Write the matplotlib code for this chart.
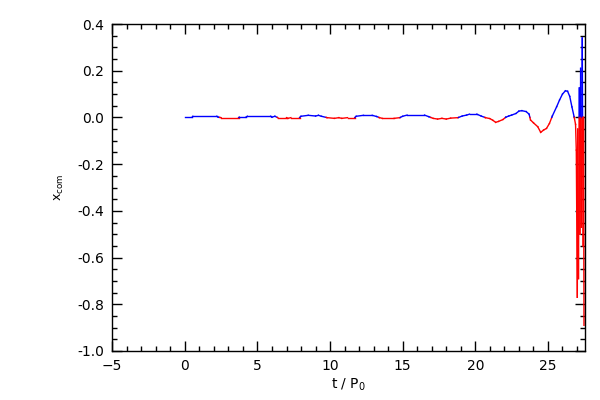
import numpy as np
import matplotlib
matplotlib.use("Agg")
import matplotlib.pyplot as plt
from matplotlib.ticker import MultipleLocator, FormatStrFormatter

# centre-of-mass position vs time
T = [0.0, 0.5, 0.55, 2.2, 2.3, 2.5, 3.7, 3.75, 4.2, 4.3, 5.9, 6.0, 6.2,
     6.4, 7.0, 7.1, 7.3, 7.9, 8.0, 8.5, 9.0, 9.2, 9.4, 9.8, 10.3, 10.6,
     10.8, 11.2, 11.7, 11.8, 12.3, 12.9, 13.2, 13.4, 13.6, 14.4, 14.8, 15.0,
     15.3, 16.5, 16.8, 17.1, 17.4, 17.7, 18.0, 18.3, 18.8, 19.1, 19.4, 19.6,
     20.1, 20.4, 20.7, 21.0, 21.2, 21.4, 21.6, 21.9, 22.1, 22.3, 22.5, 22.8,
     23.0, 23.2, 23.5, 23.7, 23.8, 24.0, 24.3, 24.5, 24.7, 24.9, 25.1, 25.3,
     25.6, 25.8, 26.0, 26.2, 26.35, 26.5, 26.65, 26.8, 26.9, 26.95, 27.02,
     27.05, 27.1, 27.16, 27.2, 27.25, 27.3, 27.36, 27.42, 27.45, 27.48]
XCOM = [0.001, 0.001, 0.005, 0.005, 0.001, -0.001, -0.001, 0.001, 0.001,
        0.005, 0.005, 0.001, 0.005, -0.001, -0.001, -0.004, -0.001, -0.001,
        0.005, 0.009, 0.006, 0.009, 0.005, -0.001, -0.004, -0.001, -0.004,
        -0.001, -0.001, 0.005, 0.009, 0.009, 0.004, -0.001, -0.004, -0.004,
        -0.001, 0.005, 0.010, 0.010, 0.003, -0.004, -0.007, -0.004, -0.007,
        -0.003, -0.001, 0.006, 0.010, 0.014, 0.014, 0.006, -0.001, -0.005,
        -0.012, -0.021, -0.017, -0.009, 0.001, 0.006, 0.010, 0.017, 0.027,
        0.029, 0.025, 0.014, -0.011, -0.023, -0.040, -0.064, -0.054, -0.047,
        -0.026, 0.006, 0.046, 0.075, 0.100, 0.114, 0.112, 0.090, 0.045, 0.003,
        -0.03, -0.14, -0.77, -0.05, -0.69, 0.126, -0.50, 0.21, -0.47, 0.34,
        -0.55, 0.0, -0.89]

t = np.array(T)
x = np.array(XCOM)

fig = plt.figure(figsize=(6, 4), dpi=100)
ax = fig.add_axes([0.187, 0.1225, 0.788, 0.8175])

# blue where x_com > 0, red where x_com < 0 (segments split at zero crossings)
for i in range(len(t) - 1):
    t0, t1, x0, x1 = t[i], t[i + 1], x[i], x[i + 1]
    if x0 * x1 < 0:
        tc = t0 + (t1 - t0) * x0 / (x0 - x1)
        ax.plot([t0, tc], [x0, 0], color="blue" if x0 > 0 else "red", lw=1.0)
        ax.plot([tc, t1], [0, x1], color="blue" if x1 > 0 else "red", lw=1.0)
    else:
        c = "blue" if (x0 + x1) > 0 else "red"
        ax.plot([t0, t1], [x0, x1], color=c, lw=1.0)

ax.set_xlim(-5, 27.55)
ax.set_ylim(-1.0, 0.4)
ax.xaxis.set_major_locator(MultipleLocator(5))
ax.xaxis.set_minor_locator(MultipleLocator(1))
ax.yaxis.set_major_locator(MultipleLocator(0.2))
ax.yaxis.set_minor_locator(MultipleLocator(0.05))
ax.yaxis.set_major_formatter(FormatStrFormatter("%.1f"))
ax.tick_params(which="both", direction="in", top=True, right=True,
               labelsize=10, width=1.0, pad=6)
ax.tick_params(which="major", length=7)
ax.tick_params(which="minor", length=3.5)
for s in ax.spines.values():
    s.set_linewidth(1.0)

ax.set_xlabel(r"t / P$_\mathregular{0}$", fontsize=10, labelpad=2)
ax.set_ylabel(r"x$_\mathregular{com}$", fontsize=9, labelpad=8)

fig.savefig("out.png", dpi=100)
